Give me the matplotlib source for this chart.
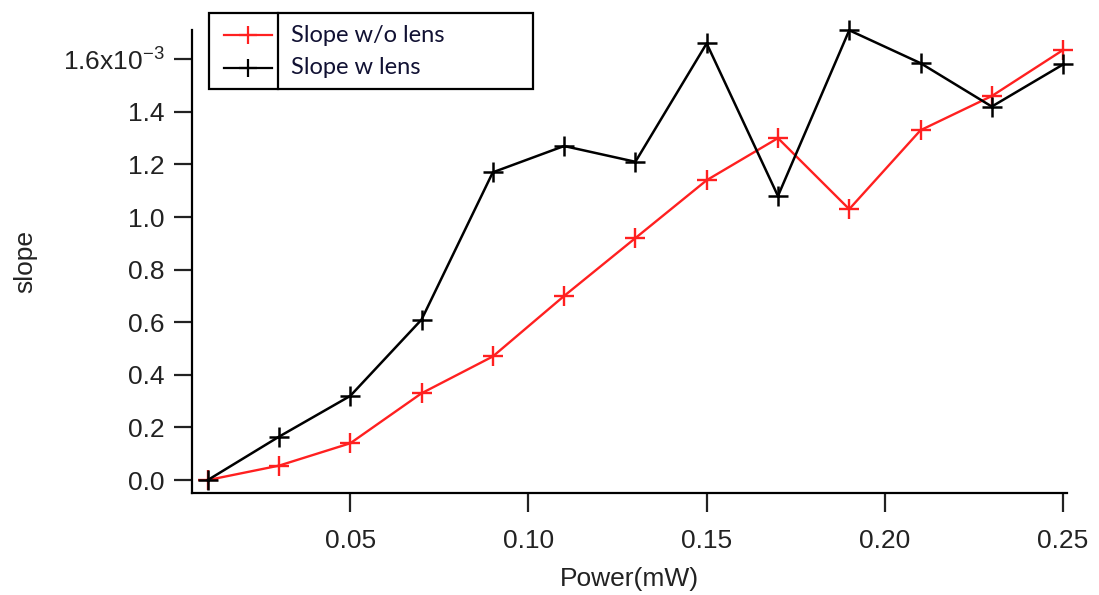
import matplotlib
matplotlib.use("Agg")
import matplotlib.pyplot as plt
from matplotlib.lines import Line2D
from matplotlib.patches import Rectangle

# Data (slope in units of 1e-3)
power = [0.01, 0.03, 0.05, 0.07, 0.09, 0.11, 0.13, 0.15, 0.17, 0.19, 0.21, 0.23, 0.25]
slope_wo_lens = [0.0, 0.055, 0.14, 0.33, 0.47, 0.70, 0.92, 1.14, 1.30, 1.03, 1.33, 1.46, 1.635]
slope_w_lens = [0.0, 0.165, 0.32, 0.61, 1.17, 1.27, 1.21, 1.66, 1.08, 1.71, 1.585, 1.42, 1.58]
x_ticks = [0.05, 0.10, 0.15, 0.20, 0.25]
x_ticklabels = ["0.05", "0.10", "0.15", "0.20", "0.25"]
y_ticks = [0.0, 0.2, 0.4, 0.6, 0.8, 1.0, 1.2, 1.4, 1.6]
y_ticklabels = ["0.0", "0.2", "0.4", "0.6", "0.8", "1.0", "1.2", "1.4", "1.6x10$^{-3}$"]
legend_labels = ["Slope w/o lens", "Slope w lens"]

plt.rcParams['font.family'] = ['Liberation Sans', 'DejaVu Sans']
plt.rcParams['mathtext.fontset'] = 'custom'
plt.rcParams['mathtext.rm'] = 'Liberation Sans'
plt.rcParams['mathtext.it'] = 'Liberation Sans'

W, H = 1099, 595
fig = plt.figure(figsize=(W / 100, H / 100), dpi=100)
ax = fig.add_axes([192 / W, 1 - 493 / H, (1067 - 192) / W, (493 - 30) / H])

ax.plot(power, slope_wo_lens, color="#ff2020", lw=1.7, marker="+", ms=14, mew=1.7, clip_on=False, zorder=3)
ax.plot(power, slope_w_lens, color="black", lw=1.8, marker="+", ms=14, mew=1.8, clip_on=False, zorder=3)

ax.set_xlim(0.0056, 0.2511)
ax.set_ylim(-0.049, 1.711)

for s in ["top", "right"]:
    ax.spines[s].set_visible(False)
for s in ["left", "bottom"]:
    ax.spines[s].set_linewidth(1.6)

ax.set_xticks(x_ticks)
ax.set_xticklabels(x_ticklabels)
ax.set_yticks(y_ticks)
ax.set_yticklabels(y_ticklabels)
ax.tick_params(axis="y", direction="out", length=13, width=1.6, pad=7, labelsize=19, colors="#222222")
ax.tick_params(axis="x", direction="out", length=14, width=1.6, pad=12, labelsize=19, colors="#222222")
ax.set_xlabel("Power(mW)", fontsize=19, color="#222222", labelpad=10)
ax.set_ylabel("slope", fontsize=19, color="#222222", labelpad=18)

# Legend box drawn in figure pixel coordinates
def fx(px):
    return px / W

def fy(py):
    return 1 - py / H

fig.patches.append(Rectangle((fx(209), fy(89)), fx(533) - fx(209), fy(13) - fy(89),
                             transform=fig.transFigure, facecolor="white", edgecolor="black",
                             lw=1.6, zorder=10))
fig.lines.append(Line2D([fx(278), fx(278)], [fy(13), fy(89)], transform=fig.transFigure,
                        color="black", lw=1.6, zorder=11))
legend_colors = ["#ff2020", "black"]
legend_y = [35, 68]
for lab, col, yy in zip(legend_labels, legend_colors, legend_y):
    fig.lines.append(Line2D([fx(224), fx(272)], [fy(yy), fy(yy)], transform=fig.transFigure,
                            color=col, lw=1.6, zorder=11))
    fig.lines.append(Line2D([fx(248)], [fy(yy)], transform=fig.transFigure, color=col,
                            marker="+", ms=13, mew=1.6, zorder=11))
    fig.text(fx(291), fy(yy), lab, fontsize=17, family=["Lato", "DejaVu Sans"],
             va="center", ha="left", color="#111133", zorder=12)

fig.savefig("out.png", dpi=100)
